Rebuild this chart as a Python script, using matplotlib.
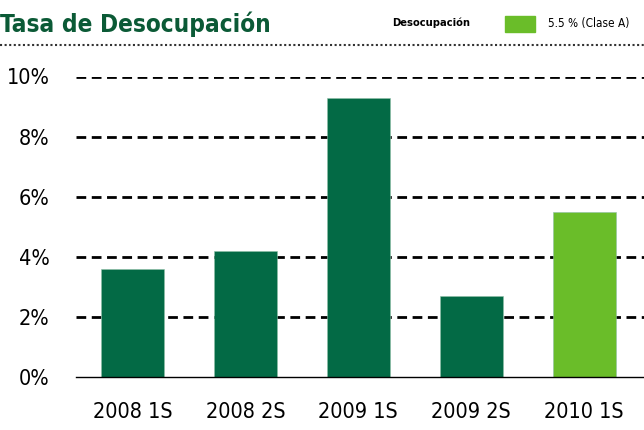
import matplotlib
matplotlib.use("Agg")
import matplotlib.pyplot as plt
from matplotlib.lines import Line2D
from matplotlib.patches import Rectangle

# data
periods = ["2008 1S", "2008 2S", "2009 1S", "2009 2S", "2010 1S"]
rates = [3.6, 4.2, 9.3, 2.7, 5.5]
yticks = [0, 2, 4, 6, 8, 10]

dark = "#036a45"
light = "#6abd29"
title_col = "#0b5a36"
colors = [dark, dark, dark, dark, light]

plt.rcParams['font.family'] = ['DejaVu Sans']
plt.rcParams['font.stretch'] = 'condensed'

fig = plt.figure(figsize=(6.44, 4.30), dpi=100)
ax = fig.add_axes([76/644, 1 - 377/430, (644 - 76)/644, (377 - 76.5)/430])

x = range(len(periods))
ax.bar(x, rates, width=0.56, color=colors, edgecolor="#8fbfa8", linewidth=0.4, zorder=3)

ax.set_xlim(-0.5, 4.53)
ax.set_ylim(0, 10)
ax.set_yticks(yticks)
ax.set_yticklabels([f"{t}%" for t in yticks], fontsize=15.5)
ax.set_xticks(list(x))
ax.set_xticklabels(periods, fontsize=15.5)
ax.tick_params(axis="both", length=0)
ax.tick_params(axis="y", pad=19)
ax.tick_params(axis="x", pad=18)

for t in yticks[1:]:
    ax.axhline(t, color="black", lw=2.0, ls=(0, (3.5, 2)), zorder=1)

for s in ["top", "right", "left"]:
    ax.spines[s].set_visible(False)
ax.spines["bottom"].set_linewidth(1.0)
ax.spines["bottom"].set_zorder(4)

# header
fig.text(0.0, 1 - 24/430, "Tasa de Desocupación", fontsize=17.5, fontweight="bold",
         color=title_col, va="center", ha="left")
fig.add_artist(Line2D([0, 1], [1 - 45/430, 1 - 45/430], color="#333333",
                      lw=1.5, ls=(0, (1, 1.2)), transform=fig.transFigure))
fig.text(470/644, 1 - 23/430, "Desocupación", fontsize=8, fontweight="bold",
         color="black", va="center", ha="right")
fig.add_artist(Rectangle((505/644, 1 - 32/430), 30/644, 16/430, color=light,
                         transform=fig.transFigure))
fig.text(548/644, 1 - 23/430, "5.5 % (Clase A)", fontsize=8.5,
         color="black", va="center", ha="left")

fig.savefig("out.png", dpi=100)
